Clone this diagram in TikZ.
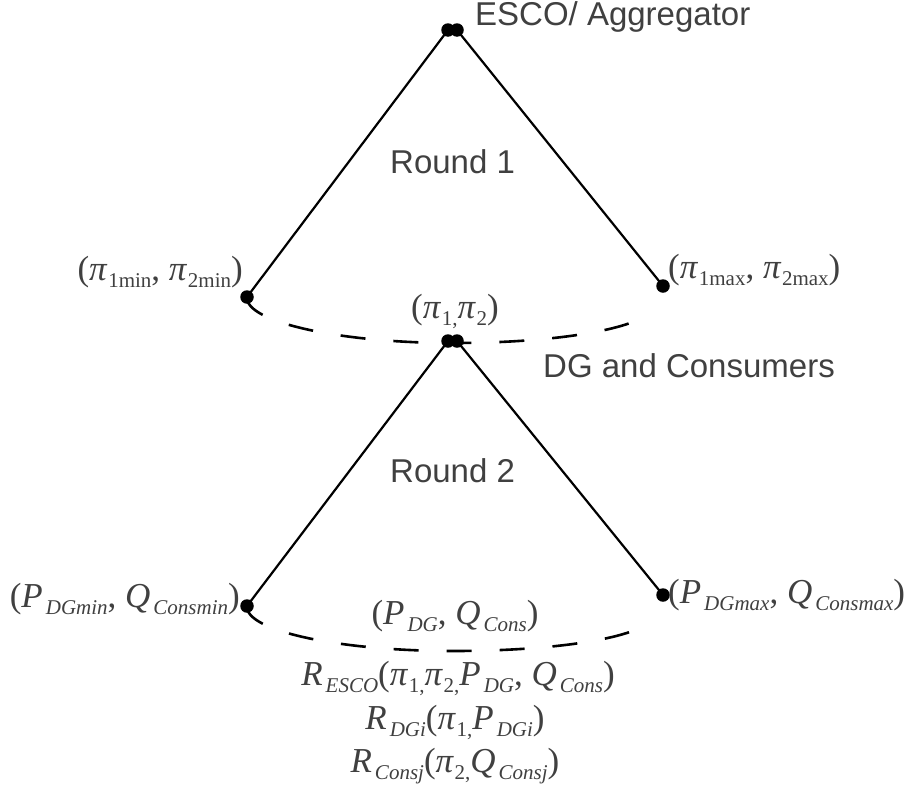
\documentclass[tikz,border=0pt]{standalone}
\usepackage{fontspec}
\setmainfont{Liberation Serif}
\newfontfamily\sansfam{Liberation Sans}
\newcommand\lbl{\fontsize{35}{35}\selectfont}
\newcommand\sbup[1]{\kern1.5pt\raisebox{-7pt}{\fontsize{21}{21}\selectfont\upshape #1}}
\newcommand\sbit[1]{\kern3pt\raisebox{-7pt}{\fontsize{21}{21}\selectfont\itshape #1}}
\newcommand\ppi{{\itshape π}}
\begin{document}
\begin{tikzpicture}[x=1pt,y=-1pt,
  dot/.style={circle,fill=black,inner sep=0pt,minimum size=13.5pt},
  edge/.style={line width=2.2pt,black},
  arcline/.style={line width=2.6pt,black,dash pattern=on 25pt off 28pt},
  sans/.style={inner sep=0pt,text=black!75,font=\sansfam\fontsize{33}{33}\selectfont},
  mlbl/.style={inner sep=0pt,text=black!75,font=\lbl}]
\useasboundingbox (0,0) rectangle (916,790);
% upper tree
\node[dot] (ta) at (448,30) {};
\node[dot] (tb) at (457,30) {};
\node[dot] (tl) at (247,297) {};
\node[dot] (tr) at (663,286) {};
\draw[edge] (ta.center) -- (tl.center);
\draw[edge] (tb.center) -- (tr.center);
% lower tree
\node[dot] (ba) at (448,341) {};
\node[dot] (bb) at (457,341) {};
\node[dot] (bl) at (247,606) {};
\node[dot] (br) at (663,595) {};
\draw[edge] (ba.center) -- (bl.center);
\draw[edge] (bb.center) -- (br.center);
% dashed arcs
\coordinate (te) at (652,310);
\coordinate (be) at (652,619);
\draw[arcline] (tl.center) .. controls (245,322) and (340,343) .. (453,343)
  .. controls (560,343) and (640,328) .. (te);
\draw[arcline] (bl.center) .. controls (245,631) and (340,651) .. (453,651)
  .. controls (560,651) and (640,637) .. (be);
% sans labels
\node[sans,anchor=base west] (esco) at (475,25) {ESCO/ Aggregator};
\node[sans,anchor=base west] (r1) at (390,173) {Round 1};
\node[sans,anchor=base west] (dgc) at (543,377) {DG and Consumers};
\node[sans,anchor=base west] (r2) at (390,482) {Round 2};
% math labels
\node[mlbl,anchor=base east] (l1) at (243,280) {(\ppi\sbup{1min}, \ppi\sbup{2min})};
\node[mlbl,anchor=base west] (rr1) at (668,278) {(\ppi\sbup{1max}, \ppi\sbup{2max})};
\node[mlbl,anchor=base] (m1) at (455,318) {(\ppi\sbup{1,}\ppi\sbup{2})};
\node[mlbl,anchor=base east] (l2) at (240,607) {(\textit{P}\sbit{DGmin}, \textit{Q}\sbit{Consmin})};
\node[mlbl,anchor=base west] (rr2) at (668,603) {(\textit{P}\sbit{DGmax}, \textit{Q}\sbit{Consmax})};
\node[mlbl,anchor=base] (m2) at (455,624) {(\textit{P}\sbit{DG}, \textit{Q}\sbit{Cons})};
\node[mlbl,anchor=base] (re) at (458,685) {\textit{R}\sbit{ESCO}(\ppi\sbup{1,}\ppi\sbup{2,}\textit{P}\sbit{DG}, \textit{Q}\sbit{Cons})};
\node[mlbl,anchor=base] (rd) at (455,729) {\textit{R}\sbit{DGi}(\ppi\sbup{1,}\textit{P}\sbit{DGi})};
\node[mlbl,anchor=base] (rc) at (455,772) {\textit{R}\sbit{Consj}(\ppi\sbup{2,}\textit{Q}\sbit{Consj})};
\end{tikzpicture}
\end{document}
